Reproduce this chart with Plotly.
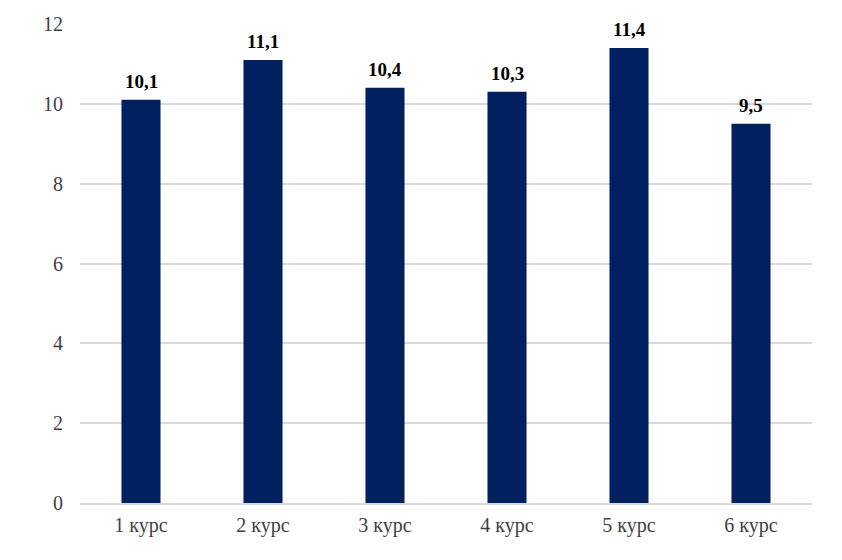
import plotly.graph_objects as go

courses = ["1 курс", "2 курс", "3 курс", "4 курс", "5 курс", "6 курс"]
values = [10.1, 11.1, 10.4, 10.3, 11.4, 9.5]
value_labels = ["10,1", "11,1", "10,4", "10,3", "11,4", "9,5"]
y_ticks = [0, 2, 4, 6, 8, 10, 12]

fig = go.Figure(go.Bar(
    x=courses,
    y=values,
    marker=dict(color="#002060", line=dict(width=0)),
    hoverinfo="x+y",
))

# value labels above the bars, a bit higher than plotly's default outside text
for c, v, lab in zip(courses, values, value_labels):
    fig.add_annotation(
        x=c, y=v, text="<b>" + lab + "</b>", showarrow=False,
        yanchor="bottom", yshift=6,
        font=dict(family="Liberation Serif", size=19, color="#000000"),
    )

# body of the html page has an 8px margin, so the margins are shifted to match
fig.update_layout(
    width=842,
    height=560,
    margin=dict(l=72, r=38, t=16, b=65),
    paper_bgcolor="white",
    plot_bgcolor="white",
    bargap=0.68,
    showlegend=False,
    font=dict(family="Liberation Serif", size=20, color="#404040"),
)
fig.update_xaxes(
    showline=True, linecolor="#d9d9d9", linewidth=1.5,
    ticks="", ticklabelstandoff=3, automargin=False,
    tickfont=dict(size=20, color="#404040"),
)
fig.update_yaxes(
    range=[0, 12], tickvals=y_ticks,
    showgrid=True, gridcolor="#d9d9d9", gridwidth=1.5,
    zeroline=False, ticks="", ticklabelstandoff=16, automargin=False,
    tickfont=dict(size=20, color="#404040"),
)

fig.write_html("out.html")
